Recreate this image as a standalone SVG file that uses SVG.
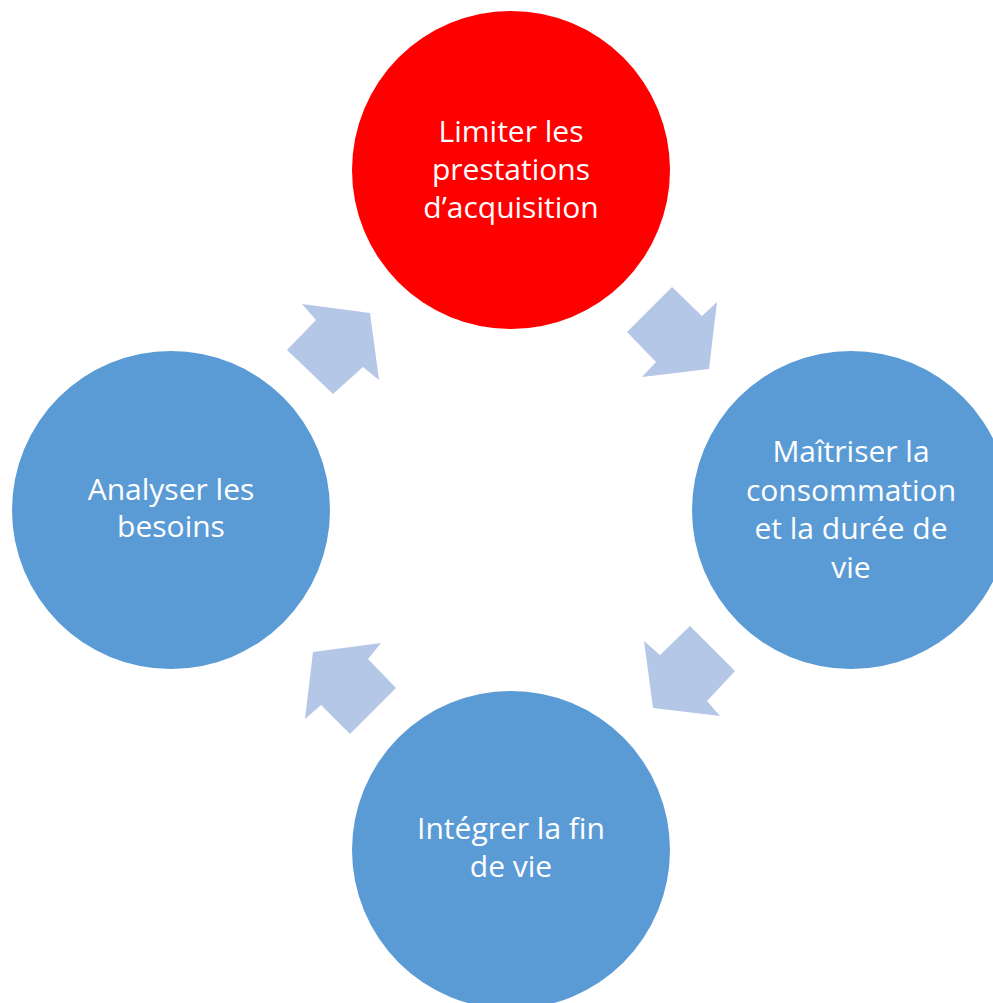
<svg xmlns="http://www.w3.org/2000/svg" width="993" height="1003" viewBox="0 0 993 1003">
<style>
.node{fill:#5B9BD5}
.hot{fill:#FF0000}
.arrow{fill:#B4C7E7}
.lbl{font-family:"Open Sans","Liberation Sans",sans-serif;font-size:30px;fill:#FFFFFF;text-anchor:middle}
</style>
<rect width="993" height="1003" fill="#FFFFFF"/>
<g id="connectors">
<polygon class="arrow" points="302,304 370,313 379,380 363,367 333,394 287,350 316,320"/>
<polygon class="arrow" points="672,287 702,316 717,302 709,369 642,377 656,362 627,332"/>
<polygon class="arrow" points="690,626 735,671 707,701 720,716 653,708 644,641 660,655"/>
<polygon class="arrow" points="313,652 381,643 368,659 396,688 350,734 321,705 305,719"/>
</g>
<g id="node-limiter">
<circle class="hot" cx="511" cy="170" r="159"/>
<text class="lbl" x="511" y="142">Limiter les</text>
<text class="lbl" x="511" y="180">prestations</text>
<text class="lbl" x="511" y="218">d’acquisition</text>
</g>
<g id="node-maitriser">
<circle class="node" cx="851" cy="510" r="159"/>
<text class="lbl" x="851" y="462">Maîtriser la</text>
<text class="lbl" x="851" y="501">consommation</text>
<text class="lbl" x="851" y="539">et la durée de</text>
<text class="lbl" x="851" y="578">vie</text>
</g>
<g id="node-integrer">
<circle class="node" cx="511" cy="850" r="159"/>
<text class="lbl" x="511" y="839">Intégrer la fin</text>
<text class="lbl" x="511" y="877">de vie</text>
</g>
<g id="node-analyser">
<circle class="node" cx="171" cy="510" r="159"/>
<text class="lbl" x="171" y="500">Analyser les</text>
<text class="lbl" x="171" y="537">besoins</text>
</g>
</svg>
